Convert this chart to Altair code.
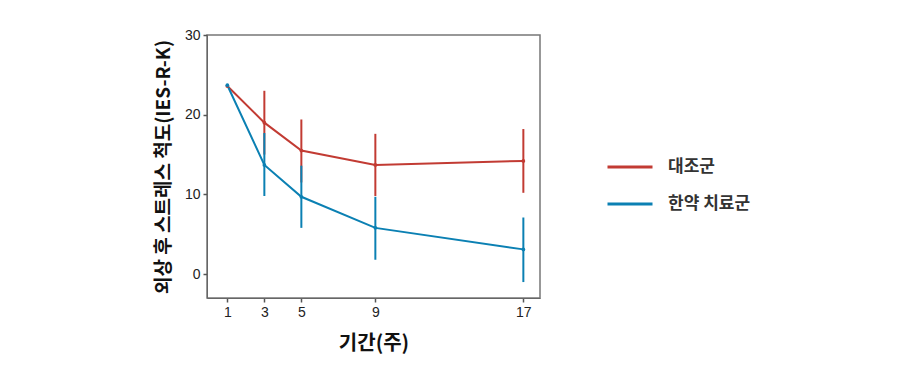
import altair as alt
import pandas as pd

weeks = [1, 3, 5, 9, 17]
groups = ["대조군", "한약 치료군"]
control_mean = [23.6, 19.0, 15.5, 13.7, 14.2]
control_lo = [23.6, 15.0, 11.5, 9.8, 10.2]
control_hi = [23.6, 23.0, 19.4, 17.6, 18.2]
treat_mean = [23.7, 13.7, 9.7, 5.8, 3.1]
treat_lo = [23.7, 9.8, 5.8, 1.8, -1.0]
treat_hi = [23.7, 17.7, 13.6, 9.7, 7.1]
colors = ["#c23b33", "#0b80b3"]

rows = []
for g, m, lo, hi in [(groups[0], control_mean, control_lo, control_hi),
                     (groups[1], treat_mean, treat_lo, treat_hi)]:
    for w, a, b, c in zip(weeks, m, lo, hi):
        rows.append({"week": w, "group": g, "mean": a, "lo": b, "hi": c})
df = pd.DataFrame(rows)

kfont = "Noto Sans CJK KR"
x = alt.X("week:Q", scale=alt.Scale(domain=[-0.1, 17.9], nice=False, zero=False),
          axis=alt.Axis(values=weeks, title="기간(주)", titleFont=kfont, titleFontSize=20,
                        titleFontWeight="bold", titleColor="#111", titlePadding=14,
                        labelFont="Liberation Sans", labelFontSize=14, labelColor="#222",
                        labelPadding=3, tickColor="#555", tickWidth=1.5,
                        domainColor="#666", tickSize=4, grid=False))
y = alt.Y("mean:Q", scale=alt.Scale(domain=[-3, 30], nice=False),
          axis=alt.Axis(values=[0, 10, 20, 30], title="외상 후 스트레스 척도(IES-R-K)",
                        titleFont=kfont, titleFontSize=19, titleFontWeight="bold",
                        titleColor="#111", titlePadding=11,
                        labelFont="Liberation Sans", labelFontSize=14, labelColor="#222",
                        labelPadding=3, tickColor="#555", tickWidth=1.5,
                        domainColor="#666", tickSize=4, grid=False))
color = alt.Color("group:N", sort=groups,
                  scale=alt.Scale(domain=groups, range=colors),
                  legend=alt.Legend(title=None, orient="none", legendX=399, legendY=108,
                                    symbolType="stroke", symbolSize=2025,
                                    symbolStrokeWidth=3, labelFont=kfont, labelFontSize=17,
                                    labelFontWeight="bold", labelColor="#333",
                                    labelOffset=14, rowPadding=5))

base = alt.Chart(df)
line = base.mark_line(strokeWidth=2).encode(x=x, y=y, color=color, detail="group:N")
err = base.mark_rule(strokeWidth=2).encode(x="week:Q", y="lo:Q", y2="hi:Q", color=color)
pts = base.mark_circle(size=14, opacity=1).encode(x="week:Q", y="mean:Q", color=color)

chart = alt.layer(line, err, pts).properties(
    width=333, height=263,
    autosize=alt.AutoSizeParams(type="none"),
    padding={"left": 199, "top": 27, "right": 345, "bottom": 80},
).configure(background="white", view=alt.ViewConfig(stroke="#777", strokeWidth=1.5))

chart.save("out.html", embed_options={"renderer": "svg", "actions": False})
